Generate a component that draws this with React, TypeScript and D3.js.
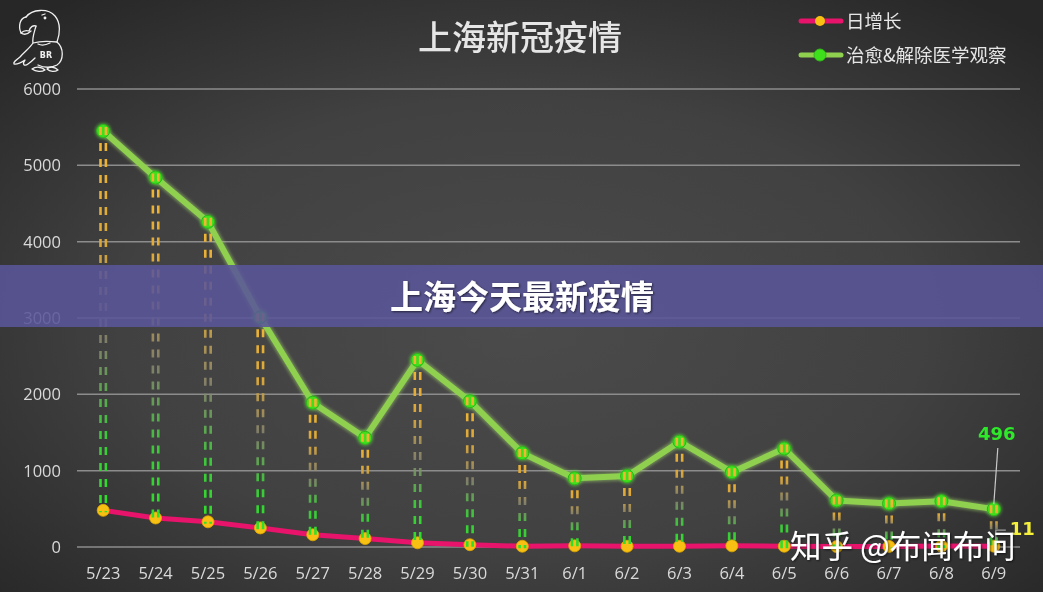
import React from "react";
import * as d3 from "d3";

const categories = ["5/23","5/24","5/25","5/26","5/27","5/28","5/29","5/30","5/31","6/1","6/2","6/3","6/4","6/5","6/6","6/7","6/8","6/9"];
const dailyNew = [480, 380, 330, 250, 160, 110, 55, 30, 10, 15, 10, 10, 15, 10, 5, 8, 12, 11];
const recovered = [5450, 4840, 4260, 3010, 1890, 1430, 2450, 1910, 1230, 900, 930, 1380, 980, 1290, 610, 570, 600, 496];
const yTicks = [0, 1000, 2000, 3000, 4000, 5000, 6000];

const W = 1043, H = 592;

export default function App() {
  const x = d3.scaleBand<string>().domain(categories).range([77, 1020]);
  const y = d3.scaleLinear().domain([0, 6000]).range([547, 89]);
  const cx = (c: string) => (x(c) as number) + x.bandwidth() / 2;

  const line = d3.line<number>().x((_, i) => cx(categories[i])).y((d) => y(d));

  const last = categories.length - 1;

  return (
    <svg width={W} height={H} style={{ position: "fixed", left: 0, top: 0 }} fontFamily="'Noto Sans CJK SC', 'Noto Sans', sans-serif">
      <defs>
        <radialGradient id="bg" cx="50%" cy="55%" r="70%">
          <stop offset="0%" stopColor="#4b4b4b" />
          <stop offset="55%" stopColor="#414141" />
          <stop offset="100%" stopColor="#272727" />
        </radialGradient>
        {categories.map((c, i) => (
          <linearGradient key={c} id={`drop${i}`} gradientUnits="userSpaceOnUse" x1={0} x2={0} y1={y(recovered[i])} y2={y(dailyNew[i])}>
            <stop offset="0%" stopColor="#f2b632" />
            <stop offset="30%" stopColor="#d9a63a" />
            <stop offset="55%" stopColor="#8a8870" stopOpacity={0.85} />
            <stop offset="80%" stopColor="#3cc83a" />
            <stop offset="100%" stopColor="#2ee02a" />
          </linearGradient>
        ))}
        <filter id="glow" x="-20%" y="-20%" width="140%" height="140%">
          <feGaussianBlur stdDeviation="1.5" />
        </filter>
        <filter id="shadow" x="-10%" y="-30%" width="120%" height="160%">
          <feDropShadow dx="1" dy="1" stdDeviation="1.2" floodColor="#000" floodOpacity="0.6" />
        </filter>
      </defs>
      <rect x={0} y={0} width={W} height={H} fill="url(#bg)" />

      {/* logo */}
      <g fill="none" stroke="#f0f0f0" strokeWidth={1.3} strokeLinecap="round" strokeLinejoin="round">
        <path d="M26,17 C32,9 48,8 55,16 C61,23 60,34 57,42" />
        <path d="M26,17 C20,18 18,26 21,33 C23,31 26,30 29,31 C30,27 33,25 36,26" />
        <path d="M21,33 C24,35 28,34 31,31" />
        <path d="M42,15 L45,14" />
        <circle cx={45} cy={18} r={0.8} fill="#f0f0f0" />
        <path d="M36,26 C34,33 32,38 33,43 C30,48 24,52 20,57 C16,60 13,62 14,64 C17,65 22,62 25,60 C22,64 24,67 28,64 C31,62 33,60 35,58" />
        <path d="M33,43 C40,41 48,41 57,42 C64,48 64,60 57,65 C52,68 44,68 38,65" />
        <path d="M38,44 C42,46 46,45 50,43" />
        <path d="M32,69 C36,66 42,67 45,70 C42,72 36,72 32,69 Z" />
        <path d="M47,69 C50,66 55,67 58,70 C55,72 50,72 47,69 Z" />
      </g>
      <text x={46} y={58} fill="#f0f0f0" fontSize={8} fontWeight={900} textAnchor="middle" fontFamily="'DejaVu Sans', sans-serif">BR</text>

      {/* title */}
      <text x={520} y={50} textAnchor="middle" fill="#e6e6e6" fontSize={34} fontWeight={500}>上海新冠疫情</text>

      {/* legend */}
      <g>
        <line x1={801} x2={841} y1={21} y2={21} stroke="#e8136b" strokeWidth={5} strokeLinecap="round" />
        <circle cx={820} cy={21} r={5} fill="#f7c012" />
        <text x={846} y={27.5} fill="#e6e6e6" fontSize={18.5}>日增长</text>
        <line x1={801} x2={841} y1={55} y2={55} stroke="#8fd14f" strokeWidth={5} strokeLinecap="round" />
        <circle cx={820} cy={55} r={6} fill="#3ee01c" stroke="#30b818" strokeWidth={1} />
        <text x={846} y={61.5} fill="#e6e6e6" fontSize={18.5}>治愈&amp;解除医学观察</text>
      </g>

      {/* grid and y axis */}
      {yTicks.map((t) => (
        <g key={t}>
          <line x1={77} x2={1020} y1={y(t)} y2={y(t)} stroke="#8c8c8c" strokeWidth={1.5} />
          <text x={61} y={y(t) + 6} textAnchor="end" fill="#d9d9d9" fontSize={16.5} fontFamily="'Open Sans', 'Noto Sans', sans-serif">{t}</text>
        </g>
      ))}
      {categories.map((c) => (
        <text key={c} x={cx(c)} y={579} textAnchor="middle" fill="#d9d9d9" fontSize={16.5} fontFamily="'Open Sans', 'Noto Sans', sans-serif">{c}</text>
      ))}

      {/* lines */}
      <path d={line(recovered) || ""} fill="none" stroke="#a6e06a" strokeOpacity={0.45} strokeWidth={9} filter="url(#glow)" />
      <path d={line(recovered) || ""} fill="none" stroke="#8fd14f" strokeWidth={6} strokeLinejoin="round" />
      <path d={line(dailyNew) || ""} fill="none" stroke="#e8136b" strokeWidth={5} strokeLinejoin="round" />

      {/* markers */}
      {categories.map((c, i) => (
        <g key={c}>
          <circle cx={cx(c)} cy={y(recovered[i])} r={8} fill="#5ef03a" opacity={0.5} filter="url(#glow)" />
          <circle cx={cx(c)} cy={y(recovered[i])} r={6.5} fill="#3ee01c" stroke="#2fb21a" strokeWidth={1} />
          <circle cx={cx(c)} cy={y(dailyNew[i])} r={6} fill="#f7c012" stroke="#e0a800" strokeWidth={0.8} />
        </g>
      ))}

      {/* drop lines (double dashed) */}
      {categories.map((c, i) => {
        const y1 = y(recovered[i]) - 4;
        const y2 = y(dailyNew[i]) + 2;
        return (
          <g key={c} stroke={`url(#drop${i})`} strokeWidth={2.6} strokeDasharray="8 8">
            <line x1={cx(c) - 2.7} x2={cx(c) - 2.7} y1={y1} y2={y2} />
            <line x1={cx(c) + 2.7} x2={cx(c) + 2.7} y1={y1} y2={y2} />
          </g>
        );
      })}

      {/* data labels */}
      <line x1={cx(categories[last]) + 4} y1={448} x2={cx(categories[last])} y2={y(recovered[last]) - 5} stroke="#c8c8c8" strokeWidth={1.2} />
      <text x={cx(categories[last]) + 3} y={440} textAnchor="middle" fill="#2ee82a" fontSize={18} fontWeight={700} fontFamily="'DejaVu Sans', sans-serif">{recovered[last]}</text>
      <path d={`M${cx(categories[last]) + 12},${y(dailyNew[last]) - 16} L${cx(categories[last]) + 2},${y(dailyNew[last]) - 16} L${cx(categories[last]) + 2},${y(dailyNew[last]) - 5}`} fill="none" stroke="#a0a0a0" strokeWidth={1.2} />
      <text x={cx(categories[last]) + 16} y={y(dailyNew[last]) - 11} fill="#f5f03a" fontSize={18} fontWeight={700} fontFamily="'DejaVu Sans', sans-serif">{dailyNew[last]}</text>

      {/* watermark */}
      <text x={790} y={558} fill="#ffffff" fontSize={31.5} filter="url(#shadow)">知乎 @布闻布问</text>

      {/* overlay band */}
      <rect x={0} y={265} width={W} height={62} fill="#5a5598" opacity={0.88} />
      <text x={522} y={309} textAnchor="middle" fill="#ffffff" fontSize={33} fontWeight={700} filter="url(#shadow)">上海今天最新疫情</text>
    </svg>
  );
}
